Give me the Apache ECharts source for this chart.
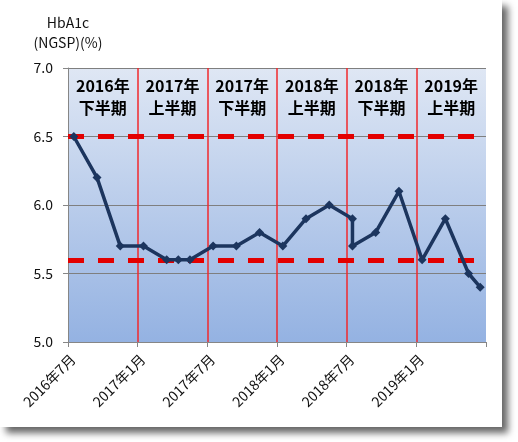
<!DOCTYPE html>
<html>
<head>
<meta charset="utf-8">
<script src="https://cdn.jsdelivr.net/npm/echarts@6/dist/echarts.min.js"></script>
<style>html,body{margin:0;padding:0;background:#fff;}#chart{width:518px;height:442px;}</style>
</head>
<body>
<div id="chart"></div>
<script>
// ---- data ----
var startMonth = '2016-07';
var months = ['2016-07','2016-09','2016-11','2017-01','2017-03','2017-04','2017-05','2017-07','2017-09','2017-11','2018-01','2018-03','2018-05','2018-07','2018-07','2018-09','2018-11','2019-01','2019-03','2019-05','2019-06'];
var hba1c = [6.5,6.2,5.7,5.7,5.6,5.6,5.6,5.7,5.7,5.8,5.7,5.9,6.0,5.9,5.7,5.8,6.1,5.6,5.9,5.5,5.4];
var xTickLabels = ['2016年7月','2017年1月','2017年7月','2018年1月','2018年7月','2019年1月',''];
var periodLabels = ['2016年\n下半期','2017年\n上半期','2017年\n下半期','2018年\n上半期','2018年\n下半期','2019年\n上半期'];
var periodStarts = ['2016-07','2017-01','2017-07','2018-01','2018-07','2019-01'];
var periodLength = 6; // months
var thresholds = [6.5, 5.6];
var yName = 'HbA1c\n(NGSP)(%)';

function monthIndex(s){
  var a = s.split('-'), b = startMonth.split('-');
  return (parseInt(a[0])-parseInt(b[0]))*12 + (parseInt(a[1])-parseInt(b[1]));
}
var seriesData = months.map(function(m,i){ return [monthIndex(m)+0.5, hba1c[i]]; });
var areas = periodStarts.map(function(p,i){
  var s = monthIndex(p);
  return [{xAxis:s, yAxis:7, name:periodLabels[i]},{xAxis:s+periodLength, yAxis:5}];
});
var vLines = periodStarts.slice(1).map(function(p){
  return {xAxis: monthIndex(p), lineStyle:{color:'#f0282c', width:1.5, type:'solid'}};
});
var hLines = thresholds.map(function(t){
  return {yAxis:t, lineStyle:{color:'#e30000', width:5, type:[16,14]}};
});

var FONT = '"Noto Sans CJK JP", "Noto Sans", sans-serif';
var chart = echarts.init(document.getElementById('chart'));
chart.setOption({
  animation:false,
  backgroundColor:'#fff',
  graphic:[{
    type:'rect', z:-10, silent:true,
    shape:{x:0,y:0,width:502,height:427},
    style:{fill:'#fff', shadowBlur:7, shadowOffsetX:6, shadowOffsetY:6, shadowColor:'rgba(0,0,0,0.6)'}
  }],
  grid:{left:68, right:32, top:68, bottom:100, show:true, borderWidth:0,
    backgroundColor:{type:'linear',x:0,y:0,x2:0,y2:1,colorStops:[{offset:0,color:'#dfe7f4'},{offset:1,color:'#94b2e2'}]}},
  xAxis:{
    type:'value', min:0, max:36, interval:6,
    axisLine:{show:true, lineStyle:{color:'#868686'}},
    axisTick:{show:true, length:5, lineStyle:{color:'#868686'}},
    splitLine:{show:false},
    axisLabel:{
      rotate:45, margin:10, verticalAlign:'top', color:'#111', fontSize:14, fontFamily:FONT,
      formatter:function(v){ return xTickLabels[Math.round(v/6)] || ''; }
    }
  },
  yAxis:{
    type:'value', min:5, max:7, interval:0.5,
    name:yName, nameLocation:'end', nameGap:15,
    nameTextStyle:{align:'center', verticalAlign:'bottom', lineHeight:20, fontSize:14, color:'#111', fontFamily:FONT},
    axisLine:{show:true, lineStyle:{color:'#868686'}},
    axisTick:{show:true, length:5, lineStyle:{color:'#868686'}},
    splitLine:{show:true, lineStyle:{color:'#7f7f7f', width:1}},
    axisLabel:{margin:15, color:'#111', fontSize:14, fontFamily:FONT, formatter:function(v){return v.toFixed(1);}}
  },
  series:[
    {
      type:'line', data:[], z:1, silent:true,
      markArea:{
        silent:true,
        itemStyle:{color:'rgba(0,0,0,0)'},
        label:{show:true, position:'insideTop', distance:7, formatter:function(p){return p.name;},
          fontSize:16, fontWeight:'bold', lineHeight:22, color:'#000', fontFamily:FONT},
        data:areas
      },
      markLine:{
        silent:true, symbol:'none', label:{show:false},
        data: vLines.concat(hLines)
      }
    },
    {
      type:'line', data:seriesData, z:5,
      symbol:'diamond', symbolSize:9,
      lineStyle:{color:'#1c355e', width:3.5},
      itemStyle:{color:'#1c355e'}
    }
  ]
});
</script>
</body>
</html>
